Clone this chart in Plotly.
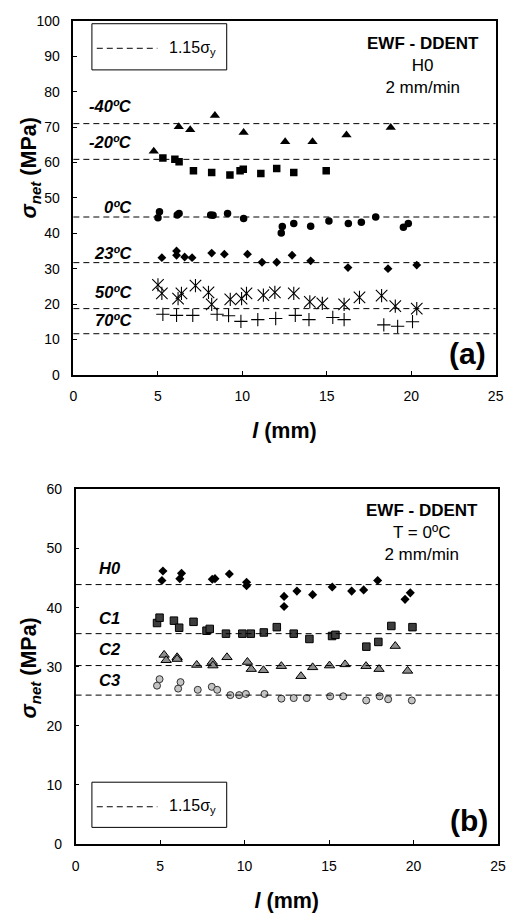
import plotly.graph_objects as go

W, H = 517, 913
FONT = "Liberation Sans, Arial, sans-serif"

# ---------------- Panel (a): H0 at several temperatures ----------------
temps_a = ["-40ºC", "-20ºC", "0ºC", "23ºC", "50ºC", "70ºC"]
lim_a = [71.0, 60.9, 44.6, 31.7, 18.7, 11.6]          # 1.15 sigma_y
lbl_y_a = [76.1, 65.7, 47.5, 34.4, 23.3, 15.4]

m40_x = [4.76, 6.24, 6.92, 8.38, 10.08, 12.54, 14.16, 16.17, 18.79]
m40_y = [63.2, 70.1, 69.3, 73.3, 68.5, 65.9, 65.9, 67.8, 69.9]

m20_x = [5.30, 6.01, 6.26, 7.11, 8.19, 9.27, 9.87, 10.06, 11.10, 12.04, 13.05, 14.97]
m20_y = [61.3, 60.9, 60.2, 57.7, 57.2, 56.5, 57.7, 58.1, 56.9, 58.3, 57.2, 57.7]

t0_x = [5.10, 5.01, 6.15, 6.26, 8.13, 8.27, 9.13, 10.08, 12.31, 12.37, 13.05, 14.05,
        15.13, 16.28, 17.05, 17.90, 19.54, 19.83]
t0_y = [46.1, 44.4, 45.2, 45.6, 45.2, 45.1, 45.6, 44.2, 40.1, 41.9, 42.8, 42.0,
        43.5, 42.8, 43.1, 44.6, 41.7, 42.8]

t23_x = [5.24, 6.11, 6.11, 6.59, 7.03, 8.19, 8.94, 10.31, 11.17, 12.04, 12.95, 14.05,
         16.26, 18.63, 20.33]
t23_y = [33.1, 35.0, 33.8, 33.3, 33.1, 34.4, 34.1, 34.1, 31.8, 31.8, 33.8, 32.2,
         30.3, 30.0, 31.0]

t50_x = [5.01, 5.24, 6.20, 6.40, 7.23, 8.00, 8.19, 9.29, 9.96, 10.25, 11.25, 11.93,
         13.05, 14.00, 14.74, 16.03, 16.94, 18.25, 19.06, 20.33]
t50_y = [25.4, 23.0, 21.5, 23.0, 25.2, 23.3, 19.9, 21.3, 21.5, 23.0, 22.5, 23.3,
         23.0, 20.6, 20.2, 19.9, 21.9, 22.4, 19.4, 18.7]

t70_x = [5.30, 6.11, 7.07, 8.51, 9.19, 9.92, 10.92, 11.98, 13.14, 13.95, 15.36, 16.03,
         18.38, 19.20, 20.08]
t70_y = [17.1, 16.8, 16.8, 17.1, 16.7, 15.1, 15.6, 15.9, 16.8, 15.6, 16.2, 15.6,
         14.1, 13.7, 15.0]

# ---------------- Panel (b): T = 0ºC, several materials ----------------
mats_b = ["H0", "C1", "C2", "C3"]
lim_b = [43.9, 35.6, 30.2, 25.2]
lbl_y_b = [46.7, 38.3, 33.0, 27.75]

h0_x = [5.17, 5.11, 6.27, 6.17, 8.09, 8.25, 9.10, 10.12, 10.12, 12.34, 12.34, 13.10,
        14.03, 15.19, 16.34, 17.05, 17.88, 19.50, 19.81]
h0_y = [46.2, 44.6, 45.8, 44.9, 44.8, 44.9, 45.7, 44.3, 43.7, 41.9, 40.2, 42.8,
        42.2, 43.5, 42.8, 43.0, 44.6, 41.4, 42.5]

c1_x = [4.82, 4.97, 5.82, 6.13, 6.98, 7.75, 7.94, 8.90, 9.87, 10.37, 11.14, 11.91,
        12.91, 13.84, 15.18, 15.38, 17.21, 17.92, 18.69, 19.94]
c1_y = [37.4, 38.3, 37.8, 36.6, 37.6, 36.1, 36.4, 35.6, 35.6, 35.6, 35.8, 36.7,
        35.6, 34.7, 35.2, 35.4, 33.4, 34.2, 36.9, 36.7]

c2_x = [5.24, 5.36, 6.01, 6.01, 7.17, 8.09, 8.13, 8.96, 10.17, 10.40, 11.12, 12.18,
        13.34, 14.03, 15.03, 15.95, 17.19, 17.96, 18.92, 19.65]
c2_y = [32.0, 31.1, 31.6, 31.3, 30.3, 30.8, 30.2, 31.6, 30.8, 29.6, 29.4, 30.1,
        28.4, 29.9, 30.2, 30.4, 30.1, 29.6, 33.5, 29.3]

c3_x = [4.82, 4.97, 6.07, 6.21, 7.23, 8.06, 8.38, 9.16, 9.68, 10.08, 11.18, 12.18,
        12.91, 13.68, 15.07, 15.84, 17.2, 18.0, 18.5, 19.9]
c3_y = [26.8, 27.9, 26.3, 27.4, 26.1, 26.6, 26.1, 25.2, 25.2, 25.4, 25.4, 24.6,
        24.7, 24.7, 25.0, 25.0, 24.3, 25.0, 24.5, 24.3]

x_ticks = [0, 5, 10, 15, 20, 25]
y_ticks_a = [0, 10, 20, 30, 40, 50, 60, 70, 80, 90, 100]
y_ticks_b = [0, 10, 20, 30, 40, 50, 60]


def px(x):
    return x / W


def py(y):
    return 1 - y / H


fig = go.Figure()


def add(x, y, xa, ya, symbol, size, color="black", lc="black", lw=0):
    fig.add_trace(go.Scatter(
        x=x, y=y, mode="markers", xaxis=xa, yaxis=ya, showlegend=False,
        marker=dict(symbol=symbol, size=size, color=color,
                    line=dict(color=lc, width=lw))))


# panel (a)
add(m40_x, m40_y, "x", "y", "triangle-up", 9)
add(m20_x, m20_y, "x", "y", "square", 7.5)
add(t0_x, t0_y, "x", "y", "circle", 7.5)
add(t23_x, t23_y, "x", "y", "diamond", 6.8)
add(t50_x, t50_y, "x", "y", "x-thin-open", 11.5, lw=1.1)
add(t50_x, t50_y, "x", "y", "line-ns-open", 9.5, lw=1.1)
add(t70_x, t70_y, "x", "y", "cross-thin-open", 9.5, lw=1.1)

# panel (b)
add(h0_x, h0_y, "x2", "y2", "diamond", 7)
add(c1_x, c1_y, "x2", "y2", "square", 7.5, color="#3d3d3d", lw=1)
add(c2_x, c2_y, "x2", "y2", "triangle-up", 9, color="#8e8e8e", lw=1)
add(c3_x, c3_y, "x2", "y2", "circle", 7, color="#c4c4c4", lc="#303030", lw=1)

DASH = "6px,4px"
shapes = []
for v in lim_a:
    shapes.append(dict(type="line", xref="x domain", yref="y", x0=0, x1=1, y0=v, y1=v,
                       line=dict(color="black", width=1, dash=DASH)))
for v in lim_b:
    shapes.append(dict(type="line", xref="x2 domain", yref="y2", x0=0, x1=1, y0=v, y1=v,
                       line=dict(color="black", width=1, dash=DASH)))

annotations = []
for t, yv in zip(temps_a, lbl_y_a):
    annotations.append(dict(x=3.6, y=yv, xref="x", yref="y", text=f"<b><i>{t}</i></b>",
                            showarrow=False, xanchor="right", yanchor="middle",
                            font=dict(size=16.5, family=FONT, color="black")))
for t, yv in zip(mats_b, lbl_y_b):
    annotations.append(dict(x=1.26, y=yv, xref="x2", yref="y2", text=f"<b><i>{t}</i></b>",
                            showarrow=False, xanchor="left", yanchor="middle",
                            font=dict(size=16.5, family=FONT, color="black")))

# legend-like boxes
for (bx0, by0, bx1, by1, ly) in [(90, 16, 228, 63, 41), (90, 788, 228, 834, 813)]:
    shapes.append(dict(type="rect", xref="paper", yref="paper",
                       x0=px(bx0), x1=px(bx1), y0=py(by1), y1=py(by0),
                       line=dict(color="black", width=1), fillcolor="white", layer="below"))
    shapes.append(dict(type="line", xref="paper", yref="paper",
                       x0=px(95), x1=px(157), y0=py(ly), y1=py(ly),
                       line=dict(color="black", width=1, dash=DASH)))
    annotations.append(dict(x=px(167), y=py(ly), xref="paper", yref="paper",
                            text="1.15σ<sub>y</sub>", showarrow=False,
                            xanchor="left", yanchor="middle",
                            font=dict(size=16, family=FONT, color="black")))

# info texts
annotations.append(dict(x=px(429), y=py(24), xref="paper", yref="paper",
                        text="<b>EWF - DDENT</b><br>H0<br>2 mm/min", showarrow=False,
                        xanchor="center", yanchor="top", align="center",
                        font=dict(size=17, family=FONT, color="black")))
annotations.append(dict(x=px(428), y=py(500), xref="paper", yref="paper",
                        text="<b>EWF - DDENT</b><br>T = 0ºC<br>2 mm/min", showarrow=False,
                        xanchor="center", yanchor="top", align="center",
                        font=dict(size=17, family=FONT, color="black")))
annotations.append(dict(x=px(496), y=py(352), xref="paper", yref="paper",
                        text="<b>(a)</b>", showarrow=False, xanchor="right", yanchor="middle",
                        font=dict(size=30, family=FONT, color="black")))
annotations.append(dict(x=px(498), y=py(827), xref="paper", yref="paper",
                        text="<b>(b)</b>", showarrow=False, xanchor="right", yanchor="middle",
                        font=dict(size=30, family=FONT, color="black")))

# y axis titles
ytitle = "<b><i>σ</i><sub><i>net</i></sub> (MPa)</b>"
annotations.append(dict(x=px(27), y=py(163), xref="paper", yref="paper", text=ytitle,
                        textangle=-90, showarrow=False, xanchor="center", yanchor="middle",
                        font=dict(size=21.5, family=FONT, color="black")))
annotations.append(dict(x=px(27), y=py(672), xref="paper", yref="paper", text=ytitle,
                        textangle=-90, showarrow=False, xanchor="center", yanchor="middle",
                        font=dict(size=21.5, family=FONT, color="black")))

axis_common = dict(showline=True, linecolor="black", linewidth=1.5, mirror=True,
                   ticks="inside", ticklen=4, tickwidth=1, tickcolor="black",
                   showgrid=False, zeroline=False,
                   tickfont=dict(size=14, family=FONT, color="black"))

xtitle = dict(text="<b><i>l</i> (mm)</b>", font=dict(size=21.5, family=FONT, color="black"),
              standoff=20)

fig.update_layout(
    width=W, height=H, margin=dict(l=0, r=0, t=0, b=0),
    paper_bgcolor="white", plot_bgcolor="white",
    font=dict(family=FONT, color="black"),
    xaxis=dict(domain=[px(71), px(503.3)], range=[0, 25], tickvals=x_ticks,
               anchor="y", title=xtitle, ticklabelstandoff=8, **axis_common),
    yaxis=dict(domain=[py(373.3), py(13.3)], range=[0, 100], tickvals=y_ticks_a,
               anchor="x", ticklabelstandoff=9, **axis_common),
    xaxis2=dict(domain=[px(73.3), px(505.7)], range=[0, 25], tickvals=x_ticks,
                anchor="y2", title=xtitle, ticklabelstandoff=8, **axis_common),
    yaxis2=dict(domain=[py(851), py(490)], range=[0, 60], tickvals=y_ticks_b,
                anchor="x2", ticklabelstandoff=9, **axis_common),
    shapes=shapes, annotations=annotations,
)

fig.write_html("out.html")
